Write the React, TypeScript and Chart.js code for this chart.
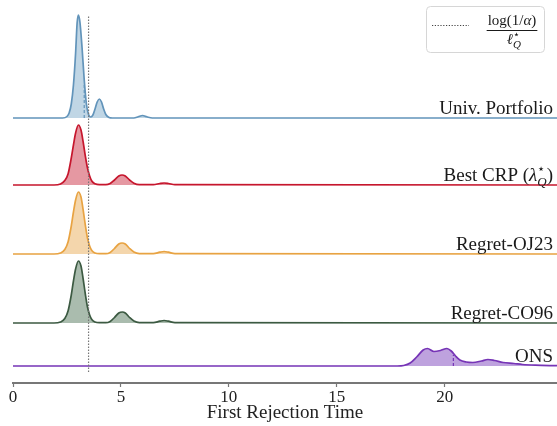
import React, { useEffect, useRef } from "react";
import { Chart, registerables } from "chart.js";

Chart.register(...registerables);

// ---------- data ----------
const X_MAX = 25.2;
const xTicks = [0, 5, 10, 15, 20];
const xTitle = "First Rejection Time";
const threshold = 3.5; // log(1/alpha)/l*_Q

const univX = [0, 2.3, 2.5, 2.6, 2.7, 2.8, 2.9, 2.97, 3.03, 3.1, 3.2, 3.3, 3.4, 3.5, 3.6, 3.7, 3.8, 3.9, 4.0, 4.1, 4.2, 4.3, 4.45, 4.6, 5.6, 5.8, 6.0, 6.2, 6.45, 25.2];
const univY = [0, 0, 1.5, 5, 14, 33, 65, 95, 103, 96, 70, 38, 14, 3.5, 1, 3, 9, 16, 19, 16, 9, 3.5, 0.5, 0, 0, 1.2, 2.5, 1.2, 0, 0];

const crpX = [0, 1.9, 2.2, 2.4, 2.55, 2.7, 2.8, 2.9, 3.03, 3.15, 3.25, 3.35, 3.45, 3.55, 3.65, 3.8, 4.0, 4.3, 4.5, 4.7, 4.9, 5.05, 5.2, 5.4, 5.6, 5.85, 6.5, 6.8, 7.0, 7.2, 7.5, 25.2];
const crpY = [0, 0, 1, 4.5, 11, 27, 40, 52, 60, 55, 43, 29, 17, 9, 4, 1.2, 0.3, 0.3, 1.5, 5, 9, 10, 9, 5, 1.8, 0.3, 0.3, 1.5, 2, 1.5, 0.3, 0];

const oj23X = [0, 1.9, 2.2, 2.4, 2.55, 2.7, 2.8, 2.9, 3.03, 3.15, 3.25, 3.35, 3.45, 3.55, 3.65, 3.8, 4.0, 4.3, 4.5, 4.7, 4.9, 5.05, 5.2, 5.4, 5.6, 5.85, 6.5, 6.8, 7.0, 7.2, 7.5, 25.2];
const oj23Y = [0, 0, 1, 4.5, 12, 28, 42, 54, 62, 57, 44, 29, 16, 8, 3.5, 1, 0.3, 0.3, 1.6, 5.5, 10, 11, 10, 5.5, 2, 0.4, 0.4, 1.8, 2.5, 1.8, 0.4, 0];

const co96X = [0, 1.9, 2.2, 2.4, 2.55, 2.7, 2.8, 2.9, 3.03, 3.15, 3.25, 3.35, 3.45, 3.55, 3.65, 3.8, 4.0, 4.3, 4.5, 4.7, 4.9, 5.07, 5.2, 5.4, 5.6, 5.85, 6.5, 6.8, 7.0, 7.2, 7.5, 25.2];
const co96Y = [0, 0, 1, 4.5, 12, 28, 42, 54, 62, 57, 44, 29, 16, 8, 3.5, 1, 0.3, 0.3, 1.6, 5.5, 10, 11, 10, 5.5, 2, 0.4, 0.4, 1.8, 2.5, 1.8, 0.4, 0];

const onsX = [0, 17.8, 18.1, 18.4, 18.7, 19.0, 19.2, 19.5, 19.8, 20.1, 20.3, 20.5, 20.7, 21.0, 21.3, 21.7, 22.0, 22.3, 22.7, 23.2, 23.6, 24.2, 25.2];
const onsY = [0, 0, 0.5, 3, 9, 16, 17.5, 14.5, 15.5, 17.5, 15, 10, 6, 4, 3.5, 5, 6.5, 5.5, 3.5, 2.5, 1.5, 0.8, 0.3];

const univMedian = 3.3;
const univMedianH = 34;
const onsMedian = 20.4;
const onsMedianH = 11;

// ---------- layout / style ----------
const FONT = '"Liberation Serif", "DejaVu Serif", serif';
const ridgeOffsets = [265, 198, 129, 60, 17];
const lineColors = ["rgb(98,148,186)", "rgb(198,22,45)", "rgb(232,163,66)", "rgb(60,90,66)", "rgb(118,52,182)"];
const fillColors = ["rgb(192,214,229)", "rgb(229,152,162)", "rgb(244,214,172)", "rgb(170,188,174)", "rgb(190,162,222)"];

const seriesX = [univX, crpX, oj23X, co96X, onsX];
const seriesY = [univY, crpY, oj23Y, co96Y, onsY];

function drawRightRich(ctx: CanvasRenderingContext2D, parts: any[], rightX: number, baseY: number) {
  let widths = parts.map((p) => {
    if (p.stack) {
      return Math.max(...p.stack.map((s: any) => { ctx.font = s.font; return ctx.measureText(s.text).width; }));
    }
    ctx.font = p.font;
    return ctx.measureText(p.text).width + (p.kern || 0);
  });
  const total = widths.reduce((a, b) => a + b, 0);
  let x = rightX - total;
  ctx.textAlign = "left";
  ctx.textBaseline = "alphabetic";
  parts.forEach((p, i) => {
    if (p.stack) {
      p.stack.forEach((s: any) => { ctx.font = s.font; ctx.fillText(s.text, x + (s.dx || 0), baseY + (s.dy || 0)); });
    } else {
      ctx.font = p.font;
      ctx.fillText(p.text, x, baseY + (p.dy || 0));
    }
    x += widths[i];
  });
}

const labelsPlugin = {
  id: "ridgeLabels",
  afterDraw(chart: any) {
    const ctx: CanvasRenderingContext2D = chart.ctx;
    const ys = chart.scales.y;
    const right = chart.chartArea.right - 4;
    ctx.save();
    ctx.fillStyle = "#1a1a1a";
    const f = `19px ${FONT}`;
    const fi = `italic 19px ${FONT}`;
    const fs = `13px ${FONT}`;
    const fsi = `italic 13px ${FONT}`;
    const b = (i: number) => ys.getPixelForValue(ridgeOffsets[i]) - 4;
    drawRightRich(ctx, [{ text: "Univ. Portfolio", font: f }], right, b(0));
    drawRightRich(ctx, [
      { text: "Best CRP (", font: f },
      { text: "λ", font: fi },
      { stack: [{ text: "⋆", font: fs, dy: -8 }, { text: "Q", font: fsi, dy: 5 }] },
      { text: ")", font: f },
    ], right, b(1));
    drawRightRich(ctx, [{ text: "Regret-OJ23", font: f }], right, b(2));
    drawRightRich(ctx, [{ text: "Regret-CO96", font: f }], right, b(3));
    drawRightRich(ctx, [{ text: "ONS", font: f }], right, b(4));

    // legend box
    const bx = 426.5, by = 6.5, bw = 118, bh = 46;
    ctx.beginPath();
    ctx.strokeStyle = "#d6d6d6";
    ctx.lineWidth = 1;
    (ctx as any).roundRect(bx, by, bw, bh, 4);
    ctx.fillStyle = "rgba(255,255,255,0.9)";
    ctx.fill();
    ctx.stroke();
    ctx.beginPath();
    ctx.setLineDash([1.2, 1.6]);
    ctx.strokeStyle = "#444";
    ctx.lineWidth = 1.1;
    ctx.moveTo(432, 25.5);
    ctx.lineTo(469, 25.5);
    ctx.stroke();
    ctx.setLineDash([]);
    // fraction
    ctx.fillStyle = "#1a1a1a";
    const cx = 512;
    const nf = `15px ${FONT}`;
    const nfi = `italic 15px ${FONT}`;
    const numParts = [
      { text: "log(1/", font: nf },
      { text: "α", font: nfi },
      { text: ")", font: nf },
    ];
    let nw = 0;
    numParts.forEach((p) => { ctx.font = p.font; nw += ctx.measureText(p.text).width; });
    drawRightRich(ctx, numParts, cx + nw / 2, 25);
    ctx.beginPath();
    ctx.strokeStyle = "#1a1a1a";
    ctx.lineWidth = 1;
    ctx.moveTo(cx - nw / 2 - 1, 30.5);
    ctx.lineTo(cx + nw / 2 + 1, 30.5);
    ctx.stroke();
    const denParts = [
      { text: "ℓ", font: nfi },
      { stack: [{ text: "⋆", font: `11px ${FONT}`, dy: -6 }, { text: "Q", font: `italic 11px ${FONT}`, dy: 4 }] },
    ];
    drawRightRich(ctx, denParts, cx + 9, 44);
    ctx.restore();
  },
};

export default function App() {
  const ref = useRef<HTMLCanvasElement>(null);
  useEffect(() => {
    if (!ref.current) return;
    const datasets: any[] = [];
    datasets.push({
      data: [{ x: threshold, y: 11 }, { x: threshold, y: 368 }],
      borderColor: "#777",
      borderWidth: 1.2,
      borderDash: [1.5, 1.5],
      pointRadius: 0,
      fill: false,
      order: 0,
    });
    datasets.push({
      data: [{ x: univMedian, y: ridgeOffsets[0] }, { x: univMedian, y: ridgeOffsets[0] + univMedianH }],
      borderColor: lineColors[0],
      borderWidth: 1.2,
      borderDash: [3, 2],
      pointRadius: 0,
      fill: false,
      order: 1,
    });
    datasets.push({
      data: [{ x: onsMedian, y: ridgeOffsets[4] }, { x: onsMedian, y: ridgeOffsets[4] + onsMedianH }],
      borderColor: lineColors[4],
      borderWidth: 1.2,
      borderDash: [3, 2],
      pointRadius: 0,
      fill: false,
      order: 1,
    });
    seriesX.forEach((xs, i) => {
      const off = ridgeOffsets[i];
      datasets.push({
        data: xs.map((x, j) => ({ x, y: off + seriesY[i][j] })),
        borderColor: lineColors[i],
        backgroundColor: fillColors[i],
        borderWidth: 1.7,
        fill: { value: off },
        pointRadius: 0,
        cubicInterpolationMode: "monotone",
        order: 2 + i,
      });
    });

    const chart = new Chart(ref.current, {
      type: "line",
      data: { datasets },
      options: {
        animation: false,
        responsive: false,
        maintainAspectRatio: false,
        layout: { padding: { left: 13, right: 0, top: 0, bottom: 0 } },
        plugins: { legend: { display: false }, tooltip: { enabled: false } },
        scales: {
          x: {
            type: "linear",
            min: 0,
            max: X_MAX,
            afterBuildTicks: (s: any) => { s.ticks = xTicks.map((v) => ({ value: v })); },
            afterFit: (s: any) => { s.height = 43; },
            grid: { display: true, drawOnChartArea: false, drawTicks: true, tickLength: 4, tickColor: "#777", tickWidth: 1.2 },
            border: { display: true, color: "#777", width: 2 },
            ticks: { font: { family: FONT, size: 17 }, color: "#222", padding: 0, maxRotation: 0 },
            title: { display: true, text: xTitle, font: { family: FONT, size: 19 }, color: "#222", padding: { top: 0, bottom: 2 } },
          },
          y: { display: false, min: 0, max: 383 },
        },
      },
      plugins: [labelsPlugin],
    } as any);
    return () => chart.destroy();
  }, []);
  return (
    <div style={{ position: "absolute", left: 0, top: 0, width: 557, height: 426 }}>
      <canvas ref={ref} width={557} height={426} style={{ width: 557, height: 426 }} />
    </div>
  );
}
